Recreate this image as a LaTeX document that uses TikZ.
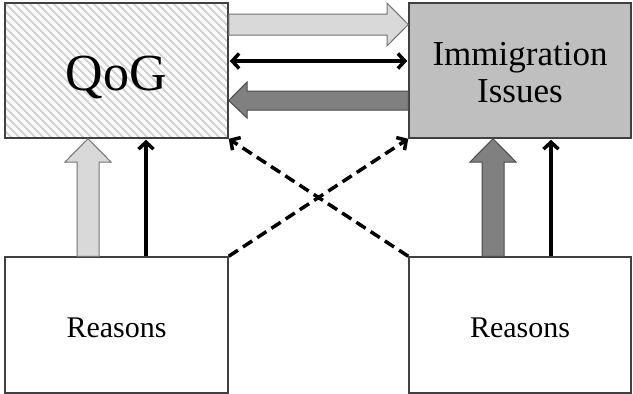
\documentclass[tikz,border=0pt]{standalone}
\usepackage{fontspec}
\setmainfont{Liberation Serif}
\usetikzlibrary{arrows.meta,calc}
\begin{document}
\begin{tikzpicture}[x=1pt,y=-1pt,
  box/.style={draw=black!75,line width=1.5pt,rectangle,inner sep=0pt,align=center},
  lightblock/.style={fill=black!15,draw=black!55,line width=1pt},
  darkblock/.style={fill=black!50,draw=black!70,line width=1pt},
  barb/.tip={Straight Barb[length=7pt,width=15pt,line width=3.5pt]},
  thinarrow/.style={line width=3.5pt,-barb},
  dbarrow/.style={line width=3.5pt,barb-barb},
  dasharrow/.style={line width=3.5pt,dash pattern=on 11pt off 6pt,-barb}]
\useasboundingbox[fill=white] (0,0) rectangle (633,394);
% hatch for QoG
\begin{scope}
  \clip (5,3) rectangle (228,138);
  \fill[white] (5,3) rectangle (228,138);
  \foreach \i in {-150,-142,...,240} \draw[black!18,line width=2pt] (\i,0) -- ++(160,160);
\end{scope}
\node[box,minimum width=223pt,minimum height=135pt,
  label={[font=\fontsize{52}{60}\selectfont,yshift=-7pt]center:QoG}] (qog) at (116.5,70.5) {};
\node[box,fill=black!25,minimum width=222pt,minimum height=135pt,
  label={[font=\fontsize{35}{38}\selectfont,align=center,yshift=-2pt]center:Immigration\\[-1pt]Issues}] (imm) at (520,70.5) {};
\node[box,fill=white,minimum width=223pt,minimum height=136pt,
  label={[font=\fontsize{30}{34}\selectfont,yshift=-3pt]center:Reasons}] (r1) at (116.5,325) {};
\node[box,fill=white,minimum width=222pt,minimum height=136pt,
  label={[font=\fontsize{30}{34}\selectfont,yshift=-3pt]center:Reasons}] (r2) at (520,325) {};
% horizontal block arrows
\draw[lightblock] (qog.east |- 0,14) -- (387,14) -- (387,3) -- (imm.west |- 0,24.5) -- (387,46) -- (387,35) -- (qog.east |- 0,35) -- cycle;
\draw[darkblock] (imm.west |- 0,91) -- (247,91) -- (247,82) -- (qog.east |- 0,100.5) -- (247,118) -- (247,110) -- (imm.west |- 0,110) -- cycle;
\draw[dbarrow] ($(qog.east |- 0,61)+(1,0)$) -- ($(imm.west |- 0,61)+(-1,0)$);
% vertical block arrows
\draw[lightblock] (r1.north -| 77,0) -- (77,162) -- (65,162) -- (qog.south -| 88,0) -- (111,162) -- (99,162) -- (r1.north -| 99,0) -- cycle;
\draw[darkblock] (r2.north -| 482,0) -- (482,162) -- (470,162) -- (imm.south -| 493,0) -- (516,162) -- (504,162) -- (r2.north -| 504,0) -- cycle;
\draw[thinarrow] (r1.north -| 146,0) -- ($(qog.south -| 146,0)+(0,1)$);
\draw[thinarrow] (r2.north -| 551,0) -- ($(imm.south -| 551,0)+(0,1)$);
% dashed
\draw[dasharrow] (r1.north east) -- (imm.south west);
\draw[dasharrow] (r2.north west) -- (qog.south east);
\end{tikzpicture}
\end{document}
